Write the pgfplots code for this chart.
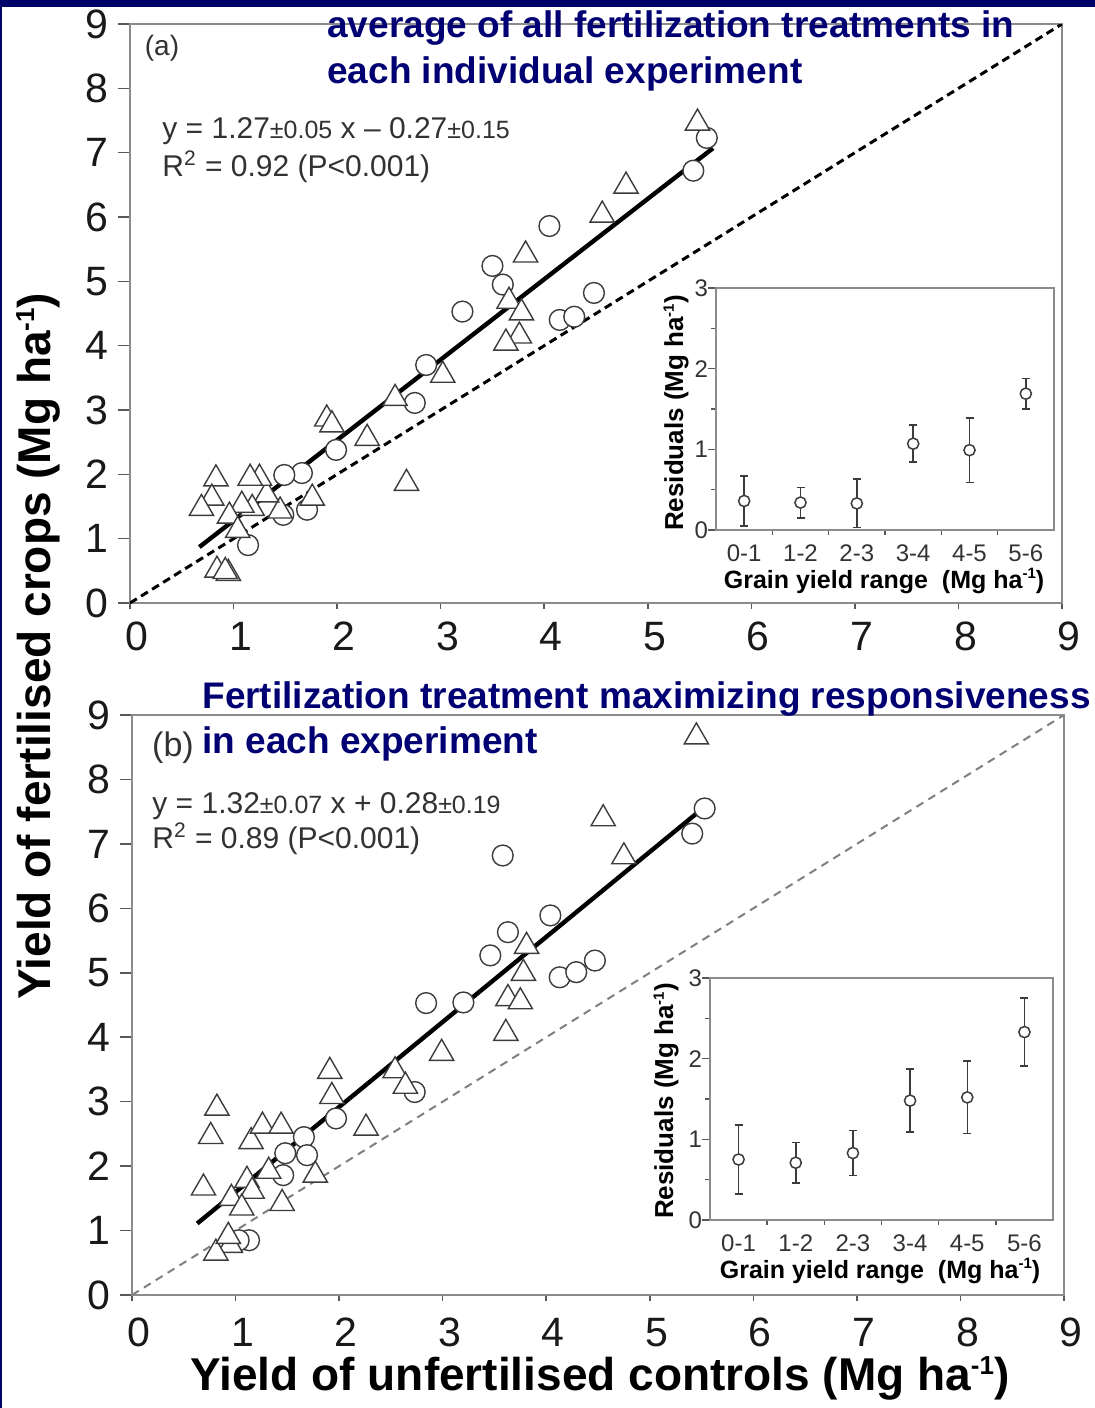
\documentclass[border=0pt]{standalone}
\usepackage{pgfplots}
\pgfplotsset{compat=1.18}
\usepackage{pgfplotstable}
\usepackage{fontspec}
\setmainfont{Liberation Sans}
\definecolor{navyhead}{RGB}{0,0,115}
\definecolor{navyband}{RGB}{0,0,105}
\definecolor{axgray}{RGB}{140,140,140}
\definecolor{mkgray}{RGB}{60,60,60}
\definecolor{txtgray}{RGB}{50,50,50}

% Panel (a): average of all fertilization treatments
\pgfplotstableread{
x y
5.48 7.46
4.79 6.48
4.56 6.03
3.82 5.41
3.66 4.69
3.78 4.51
3.76 4.15
3.63 4.04
3.02 3.54
2.56 3.18
2.67 1.86
2.29 2.56
1.90 2.86
1.95 2.77
1.76 1.63
1.45 1.43
1.32 1.68
1.25 1.94
1.16 1.94
1.18 1.47
1.08 1.52
0.83 1.93
0.79 1.63
0.69 1.47
0.96 1.35
1.04 1.13
0.84 0.51
0.95 0.46
0.92 0.49
}\triA
\pgfplotstableread{
x y
5.57 7.23
5.44 6.72
4.05 5.86
3.50 5.24
3.60 4.95
3.21 4.53
4.15 4.40
4.29 4.45
4.48 4.82
2.86 3.70
2.75 3.11
1.99 2.38
1.66 2.02
1.49 1.99
1.71 1.45
1.48 1.37
1.14 0.90
}\circA
% Panel (b): treatment maximizing responsiveness
\pgfplotstableread{
x y
5.45 8.66
4.55 7.39
4.75 6.80
3.81 5.41
3.78 4.99
3.63 4.60
3.75 4.55
3.61 4.06
2.99 3.75
2.54 3.48
2.64 3.24
1.91 3.47
1.93 3.08
2.26 2.59
0.82 2.90
0.76 2.46
1.15 2.38
1.26 2.62
1.44 2.62
1.77 1.86
1.32 1.92
1.11 1.78
1.16 1.61
0.96 1.50
1.06 1.35
0.69 1.66
1.45 1.42
0.95 0.77
0.81 0.65
0.93 0.91
}\triB
\pgfplotstableread{
x y
5.53 7.55
5.41 7.16
3.58 6.82
4.04 5.89
3.63 5.63
3.46 5.27
4.13 4.93
4.29 5.01
4.47 5.19
2.84 4.53
3.20 4.54
2.73 3.15
1.97 2.74
1.66 2.45
1.48 2.20
1.69 2.17
1.46 1.86
1.13 0.85
1.03 0.85
}\circB
% Insets: residuals by grain yield range
\pgfplotstableread{
x y e
0 0.36 0.31
1 0.34 0.19
2 0.33 0.30
3 1.07 0.23
4 0.99 0.40
5 1.69 0.19
}\resA
\pgfplotstableread{
x y e
0 0.75 0.43
1 0.71 0.25
2 0.83 0.28
3 1.48 0.39
4 1.52 0.45
5 2.33 0.42
}\resB

\pgfplotsset{
  mainax/.style={
    scale only axis, width=466pt,
    xmin=0, xmax=9, ymin=0, ymax=9,
    xtick={0,...,9}, ytick={0,...,9},
    axis line style={axgray, line width=0.8pt},
    tick style={color=black!65, line width=0.8pt},
    tick align=outside, xtick pos=left, ytick pos=left,
    major tick length=6pt,
    xtick style={/pgfplots/major tick length=3pt},
    tick label style={font=\fontsize{20.5}{24}\selectfont, text=black!90},
    xticklabel style={xshift=3.5pt},
    yticklabel style={xshift=-1.5pt},
    /pgf/number format/assume math mode=true,
  },
  insetax/.style={
    scale only axis, height=121pt,
    xmin=-0.5, xmax=5.5, ymin=0, ymax=3,
    xtick={0,...,5}, xticklabels={0-1,1-2,2-3,3-4,4-5,5-6},
    ytick={0,1,2,3}, minor ytick={0.5,1.5,2.5},
    minor xtick={0.5,1.5,2.5,3.5,4.5},
    axis background/.style={fill=white},
    axis line style={axgray, line width=0.8pt},
    tick style={color=black!65, line width=0.7pt},
    major x tick style={draw=none},
    tick align=outside, xtick pos=left, ytick pos=left,
    major tick length=4pt, minor tick length=2.5pt,
    tick label style={font=\fontsize{12}{14}\selectfont, text=black!80},
    yticklabel style={xshift=3.5pt},
    /pgf/number format/assume math mode=true,
  },
  tri/.style={only marks, mark=triangle*, mark size=7pt,
    mark options={draw=mkgray, fill=white, line width=0.7pt}},
  circ/.style={only marks, mark=*, mark size=5.2pt,
    mark options={draw=mkgray, fill=white, line width=0.7pt}},
  resid/.style={only marks, mark=*, mark size=2.8pt,
    mark options={draw=mkgray, fill=white, line width=0.75pt},
    error bars/.cd, y dir=both, y explicit,
    error bar style={color=mkgray, line width=0.75pt},
    error mark options={rotate=90, mark size=2pt, color=mkgray, line width=0.75pt}},
}
\newcommand{\pmsmall}[1]{{\fontsize{12.5}{14}\selectfont ±#1}}
\newcommand{\bigsup}{\raisebox{8pt}{\fontsize{13}{14}\selectfont -1}}
\newcommand{\smallsup}{\raisebox{4.6pt}{\fontsize{7.5}{8}\selectfont -1}}

\begin{document}
\begin{tikzpicture}[x=1pt, y=1pt]
\useasboundingbox (0pt,0pt) rectangle (547.5pt,-704pt);
\fill[white] (0pt,0pt) rectangle (547.5pt,-704pt);

% ---------- Panel (a) ----------
\begin{axis}[mainax, height=289.5pt, at={(65pt,-301.5pt)}, anchor=south west]
\addplot[black, line width=1.5pt, dash pattern=on 4pt off 2.5pt] coordinates {(0,0) (9,9)};
\addplot[black, line width=2.2pt] coordinates {(0.67,0.87) (5.63,7.07)};
\addplot[circ] table[x=x, y=y] {\circA};
\addplot[tri] table[x=x, y=y] {\triA};
\end{axis}

\begin{axis}[insetax, width=169pt, at={(358pt,-265pt)}, anchor=south west]
\addplot[resid] table[x=x, y=y, y error=e] {\resA};
\end{axis}

% ---------- Panel (b) ----------
\begin{axis}[mainax, height=290pt, at={(66pt,-647.5pt)}, anchor=south west,
  xticklabel style={yshift=-2pt}]
\addplot[gray, line width=1pt, dash pattern=on 4pt off 3pt] coordinates {(0,0) (9,9)};
\addplot[black, line width=2.2pt] coordinates {(0.63,1.11) (5.45,7.47)};
\addplot[circ] table[x=x, y=y] {\circB};
\addplot[tri] table[x=x, y=y] {\triB};
\end{axis}

\begin{axis}[insetax, width=171.5pt, at={(355pt,-610pt)}, anchor=south west]
\addplot[resid] table[x=x, y=y, y error=e] {\resB};
\end{axis}

% ---------- texts ----------
\node[anchor=base west, inner sep=0, text=navyhead, font=\bfseries\fontsize{18.5}{22}\selectfont] at (163.5pt,-19pt) {average of all fertilization treatments in};
\node[anchor=base west, inner sep=0, text=navyhead, font=\bfseries\fontsize{18.5}{22}\selectfont] at (163.5pt,-41.5pt) {each individual experiment};
\node[anchor=base west, inner sep=0, text=navyhead, font=\bfseries\fontsize{18.5}{22}\selectfont] at (101pt,-354pt) {Fertilization treatment maximizing responsiveness};
\node[anchor=base west, inner sep=0, text=navyhead, font=\bfseries\fontsize{18.5}{22}\selectfont] at (101pt,-376.5pt) {in each experiment};

\node[inner sep=0, text=txtgray, font=\fontsize{14}{16}\selectfont] at (81pt,-24pt) {(a)};
\node[inner sep=0, text=txtgray, font=\fontsize{17}{19}\selectfont] at (86.5pt,-374pt) {(b)};

\node[anchor=base west, inner sep=0, text=txtgray, font=\fontsize{15}{18}\selectfont] at (81pt,-69pt) {y = 1.27\pmsmall{0.05} x – 0.27\pmsmall{0.15}};
\node[anchor=base west, inner sep=0, text=txtgray, font=\fontsize{15}{18}\selectfont] at (81pt,-88pt) {R\textsuperscript{2} = 0.92 (P<0.001)};
\node[anchor=base west, inner sep=0, text=txtgray, font=\fontsize{15}{18}\selectfont] at (76pt,-406.5pt) {y = 1.32\pmsmall{0.07} x + 0.28\pmsmall{0.19}};
\node[anchor=base west, inner sep=0, text=txtgray, font=\fontsize{15}{18}\selectfont] at (76pt,-424pt) {R\textsuperscript{2} = 0.89 (P<0.001)};

% axis titles
\node[anchor=base, rotate=90, inner sep=0, font=\bfseries\fontsize{23}{26}\selectfont] at (25pt,-323pt) {Yield of fertilised crops (Mg ha\bigsup)};
\node[anchor=base, inner sep=0, font=\bfseries\fontsize{23}{26}\selectfont] at (300pt,-695pt) {Yield of unfertilised controls (Mg ha\bigsup)};

% inset titles
\node[anchor=base, rotate=90, inner sep=0, font=\bfseries\fontsize{13}{15}\selectfont] at (341.5pt,-206.5pt) {Residuals (Mg ha\smallsup)};
\node[anchor=base, inner sep=0, font=\bfseries\fontsize{12.5}{15}\selectfont] at (442pt,-294pt) {Grain yield range\ \ (Mg ha\smallsup)};
\node[anchor=base, rotate=90, inner sep=0, font=\bfseries\fontsize{13}{15}\selectfont] at (336.5pt,-550.5pt) {Residuals (Mg ha\smallsup)};
\node[anchor=base, inner sep=0, font=\bfseries\fontsize{12.5}{15}\selectfont] at (440pt,-639pt) {Grain yield range\ \ (Mg ha\smallsup)};

% navy frame strips
\fill[navyband] (0pt,0pt) rectangle (547.5pt,-3.5pt);
\fill[navyband] (0pt,0pt) rectangle (1pt,-704pt);
\end{tikzpicture}
\end{document}
